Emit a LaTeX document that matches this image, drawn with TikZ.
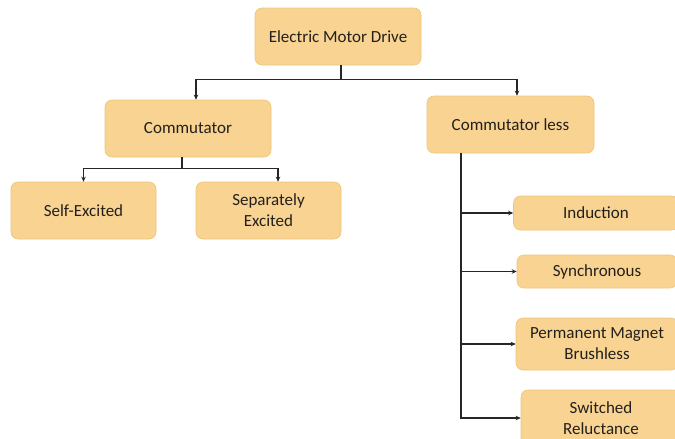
\documentclass[tikz,border=0pt]{standalone}
\usepackage{fontspec}
\setmainfont{Carlito}
\usetikzlibrary{calc,arrows.meta,positioning}

\definecolor{boxfill}{RGB}{248,211,146}
\definecolor{boxline}{RGB}{238,196,122}
\definecolor{txt}{RGB}{35,32,28}

\tikzset{
	motorbox/.style={rounded corners=7pt, fill=boxfill, draw=boxline, line width=0.6pt,
		align=center, text=txt, font=\fontsize{17}{21}\selectfont, inner sep=2pt},
	conn/.style={line width=1.1pt, draw=black!85, -{Stealth[length=5pt,width=4.5pt]}},
}

\begin{document}
\begin{tikzpicture}[x=1pt,y=-1pt]
		\useasboundingbox (0,0) rectangle (675,439);
		\clip (0,0) rectangle (675,439);
		
		% top level
		\node[motorbox, minimum width=166pt, minimum height=57pt] (drive) at (338,36.5) {Electric Motor Drive};
		
		\node[motorbox, minimum width=166pt, minimum height=57pt] (comm) at (188,128.5) {Commutator};
		\node[motorbox, minimum width=167pt, minimum height=57pt] (less) at (510.5,124.5) {Commutator less};
		
		\node[motorbox, minimum width=145pt, minimum height=57pt] (self) at (83.5,210.5) {Self-Excited};
		\node[motorbox, minimum width=145pt, minimum height=57pt] (sep) at (268.5,210.5) {Separately\\Excited};
		
		% commutator less branch
		\node[motorbox, minimum width=165pt, minimum height=34pt] (ind) at (596,213) {Induction};
		\node[motorbox, minimum width=160pt, minimum height=33pt] (syn) at (597,271.5) {Synchronous};
		\node[motorbox, minimum width=162pt, minimum height=52pt] (pmb) at (597,344) {Permanent Magnet\\Brushless};
		\node[motorbox, minimum width=160pt, minimum height=56pt] (swi) at (601,418) {Switched\\Reluctance};
		
		% connectors
		\coordinate (split1) at ($(drive.south)+(3,14)$);
		\draw[line width=1.1pt, draw=black!85] ([xshift=3pt]drive.south) -- (split1);
		\draw[conn] (split1) -| ([xshift=8pt]comm.north);
		\draw[conn] (split1) -| ([xshift=6.5pt]less.north);
		
		\coordinate (split2) at ($(comm.south)+(-6,11)$);
		\draw[line width=1.1pt, draw=black!85] ([xshift=-6pt]comm.south) -- (split2);
		\draw[conn] (split2) -| (self.north);
		\draw[conn] (split2) -| ([xshift=9.5pt]sep.north);
		
		\coordinate (spine) at ([xshift=-49.5pt]less.south);
		\foreach \n in {ind,syn,pmb}{
			\draw[conn] (spine |- \n.west) -- (\n.west);
		}
		\draw[conn] (spine) |- (swi.west);
	\end{tikzpicture}
\end{document}
